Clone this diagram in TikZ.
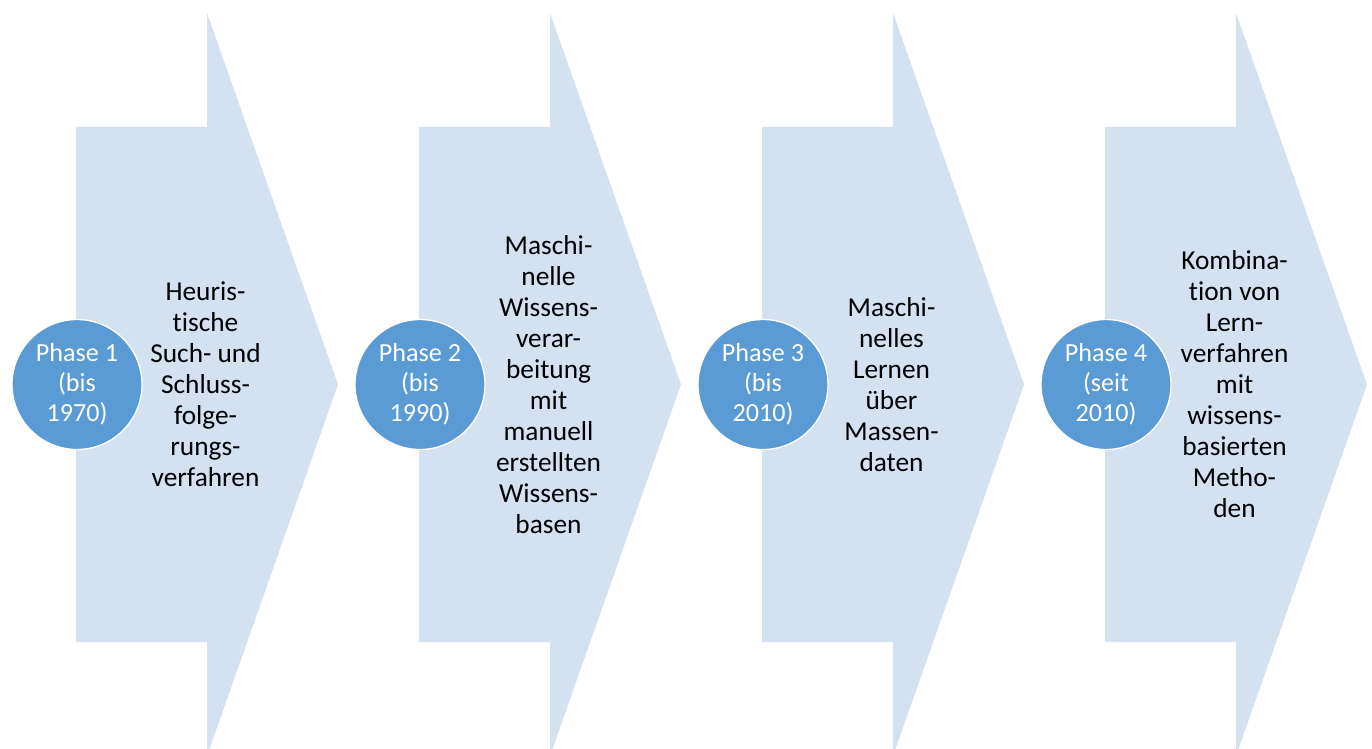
\documentclass[tikz,border=0pt]{standalone}
\usepackage{fontspec}
\setmainfont{Carlito}[Ligatures=CommonOff]
\usepackage{xcolor}
\usepackage{tikz}
\usetikzlibrary{positioning}
\definecolor{arrowfill}{RGB}{212,225,240}
\definecolor{phaseblue}{RGB}{91,155,213}
\tikzstyle{chevron} = [fill=arrowfill]
\tikzstyle{phase} = [circle, draw=white, line width=1pt, fill=phaseblue, text=white,
    minimum size=97.5pt, inner sep=0pt, align=center,
    font=\fontsize{19.6}{22.5}\selectfont]
\tikzstyle{desc} = [align=center, font=\fontsize{20.5}{23.25}\selectfont]

\begin{document}
\begin{tikzpicture}[x=0.75pt, y=-0.75pt, node distance=257.25pt]
    \useasboundingbox (0,0) rectangle (1372,749);
    % Pfeile
    \fill[chevron] (76,127) -- (207,127) -- (207,13) -- (338,384.5) -- (207,756) -- (207,642) -- (76,642) -- cycle;
    \fill[chevron] (419,127) -- (550,127) -- (550,13) -- (681,384.5) -- (550,756) -- (550,642) -- (419,642) -- cycle;
    \fill[chevron] (762,127) -- (893,127) -- (893,13) -- (1024,384.5) -- (893,756) -- (893,642) -- (762,642) -- cycle;
    \fill[chevron] (1105,127) -- (1236,127) -- (1236,13) -- (1367,384.5) -- (1236,756) -- (1236,642) -- (1105,642) -- cycle;
    % Phasen
    \node [phase] (ph1) at (77,384.5) {Phase 1\\(bis\\1970)};
    \node [phase, right of=ph1] (ph2) {Phase 2\\(bis\\1990)};
    \node [phase, right of=ph2] (ph3) {Phase 3\\(bis\\2010)};
    \node [phase, right of=ph3] (ph4) {Phase 4\\(seit\\2010)};
    % Beschreibungen
    \node [desc, right of=ph1, node distance=96.4pt] (txt1) {Heuris-\\tische\\Such- und\\Schluss-\\folge-\\rungs-\\verfahren};
    \node [desc, right of=ph2, node distance=96.4pt] (txt2) {Maschi-\\nelle\\Wissens-\\verar-\\beitung\\mit\\manuell\\erstellten\\Wissens-\\basen};
    \node [desc, right of=ph3, node distance=96.4pt] (txt3) {Maschi-\\nelles\\Lernen\\über\\Massen-\\daten};
    \node [desc, right of=ph4, node distance=96.4pt] (txt4) {Kombina-\\tion von\\Lern-\\verfahren\\mit\\wissens-\\basierten\\Metho-\\den};
\end{tikzpicture}
\end{document}
